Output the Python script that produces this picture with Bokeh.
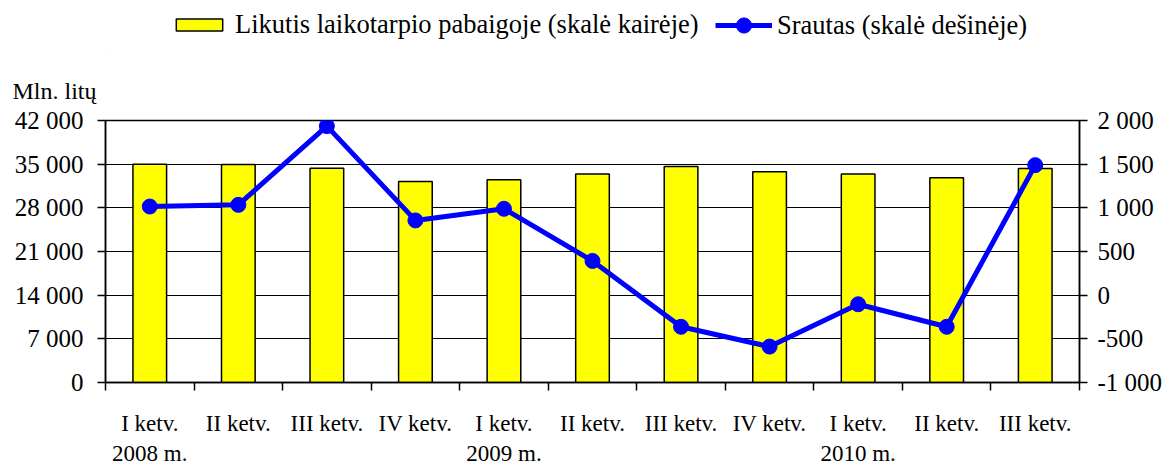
from bokeh.plotting import figure
from bokeh.layouts import column
from bokeh.models import (Range1d, LinearAxis, FixedTicker, Legend, LegendItem,
                          ColumnDataSource)
from bokeh.embed import file_html
from bokeh.resources import INLINE

# ---- data ----
quarters = ["I ketv.", "II ketv.", "III ketv.", "IV ketv.",
            "I ketv.", "II ketv.", "III ketv.", "IV ketv.",
            "I ketv.", "II ketv.", "III ketv."]
years = ["2008 m.", "2009 m.", "2010 m."]
year_start_index = [0, 4, 8]
balance = [35000, 34950, 34360, 32240, 32510, 33410, 34630, 33780, 33410, 32830, 34310]
flow = [1015, 1034, 1936, 856, 989, 392, -362, -589, -104, -362, 1489]
left_ticks = [0, 7000, 14000, 21000, 28000, 35000, 42000]
left_labels = ["0", "7 000", "14 000", "21 000", "28 000", "35 000", "42 000"]
right_ticks = [-1000, -500, 0, 500, 1000, 1500, 2000]
right_labels = ["-1 000", "-500", "0", "500", "1 000", "1 500", "2 000"]
legend_bar = "Likutis laikotarpio pabaigoje (skalė kairėje)"
legend_line = "Srautas (skalė dešinėje)"
unit_label = "Mln. litų"

FONT = "Liberation Serif"
BAR_FILL = "#FFFF00"
LINE_COL = "#0000FF"

W = 1165
HDR_H = 56
MAIN_TOP = 64
MAIN_H = 412
FRAME_H = 263
BORDER_L = 105
BORDER_R = 85

n = len(quarters)
xc = [i + 0.5 for i in range(n)]
src = ColumnDataSource(dict(x=xc, bal=balance, flow=flow))

# ---------- header figure (legend only; its frame aligns with the main frame) ----------
hdr = figure(width=W, height=HDR_H, output_backend="svg", toolbar_location=None,
             x_range=Range1d(0, 1), y_range=Range1d(0, 1),
             min_border_left=BORDER_L, min_border_right=BORDER_R, min_border_top=0,
             min_border_bottom=0, x_axis_location=None, y_axis_location=None)
hdr.outline_line_color = None
hdr.grid.visible = False

# legend sample glyphs (single point placed outside the visible range)
lb = hdr.vbar(x=[-5], top=[-5], width=1, fill_color=BAR_FILL, line_color="black",
              line_width=1.5)
ll = hdr.line(x=[-5, -4], y=[-5, -5], line_color=LINE_COL, line_width=5)
lp = hdr.scatter(x=[-5], y=[-5], size=15, fill_color=LINE_COL, line_color=LINE_COL)

common = dict(orientation="horizontal", padding=0, margin=0, border_line_color=None,
              background_fill_alpha=0, label_text_font=FONT,
              label_text_font_size="26.5px", label_text_color="black")

leg1 = Legend(items=[LegendItem(label=legend_bar, renderers=[lb])],
              location=(170 - BORDER_L, HDR_H - 40),
              glyph_width=58, glyph_height=15, label_standoff=7, label_height=15,
              **common)
leg2 = Legend(items=[LegendItem(label=legend_line, renderers=[ll, lp])],
              location=(715 - BORDER_L, HDR_H - 44),
              glyph_width=57, glyph_height=38, label_standoff=5, label_height=15,
              **common)
hdr.add_layout(leg1, "center")
hdr.add_layout(leg2, "center")

# ---------- main figure ----------
p = figure(width=W, height=MAIN_H, output_backend="svg", toolbar_location=None,
           x_range=Range1d(0, n), y_range=Range1d(0, 42000),
           min_border_left=BORDER_L, min_border_right=BORDER_R, min_border_top=MAIN_TOP,
           min_border_bottom=MAIN_H - MAIN_TOP - FRAME_H,
           x_axis_location=None, y_axis_location=None)
p.outline_line_color = "black"
p.outline_line_width = 1.5
p.xgrid.visible = False
p.ygrid.ticker = FixedTicker(ticks=left_ticks)
p.ygrid.grid_line_color = "black"
p.ygrid.grid_line_width = 1.2
p.extra_y_ranges = {"right": Range1d(-1000, 2000)}

p.title.text = unit_label
p.title.align = "left"
p.title.offset = -93
p.title.standoff = 34
p.title.text_font = FONT
p.title.text_font_size = "24px"
p.title.text_font_style = "normal"
p.title.text_color = "black"

bars = p.vbar(x="x", top="bal", width=0.38, source=src, fill_color=BAR_FILL,
              line_color="black", line_width=1.5)
ln = p.line(x="x", y="flow", source=src, y_range_name="right",
            line_color=LINE_COL, line_width=5)
pts = p.scatter(x="x", y="flow", source=src, y_range_name="right", size=15,
                fill_color=LINE_COL, line_color=LINE_COL)

def style_axis(ax, fs):
    ax.axis_line_color = "black"
    ax.axis_line_width = 1.5
    ax.major_tick_line_color = "black"
    ax.major_tick_line_width = 1.5
    ax.minor_tick_line_color = "black"
    ax.minor_tick_line_width = 1.5
    ax.major_label_text_font = FONT
    ax.major_label_text_font_size = fs
    ax.major_label_text_color = "black"

la = LinearAxis(ticker=FixedTicker(ticks=left_ticks))
la.major_label_overrides = {t: s for t, s in zip(left_ticks, left_labels)}
style_axis(la, "25px")
la.major_tick_in = 0
la.major_tick_out = 8
la.minor_tick_out = 0
la.major_label_standoff = 14
p.add_layout(la, "left")

ra = LinearAxis(y_range_name="right", ticker=FixedTicker(ticks=right_ticks))
ra.major_label_overrides = {t: s for t, s in zip(right_ticks, right_labels)}
style_axis(ra, "25px")
ra.major_tick_in = 0
ra.major_tick_out = 8
ra.minor_tick_out = 0
ra.major_label_standoff = 10
p.add_layout(ra, "right")

xa = LinearAxis(ticker=FixedTicker(ticks=xc, minor_ticks=list(range(n + 1))))
xa.major_label_overrides = {x: q for x, q in zip(xc, quarters)}
style_axis(xa, "23px")
xa.major_tick_out = 0
xa.major_tick_in = 0
xa.minor_tick_out = 8
xa.minor_tick_in = 0
xa.major_label_standoff = 20
p.add_layout(xa, "below")

yx = [xc[i] for i in year_start_index]
ya = LinearAxis(ticker=FixedTicker(ticks=yx, minor_ticks=[]))
ya.major_label_overrides = {x: y for x, y in zip(yx, years)}
style_axis(ya, "23px")
ya.axis_line_color = None
ya.major_tick_line_color = None
ya.minor_tick_line_color = None
ya.major_tick_out = 0
ya.major_tick_in = 0
ya.major_label_standoff = 2
p.add_layout(ya, "below")

layout = column(hdr, p, spacing=0)
open("out.html", "w").write(file_html(layout, INLINE))
